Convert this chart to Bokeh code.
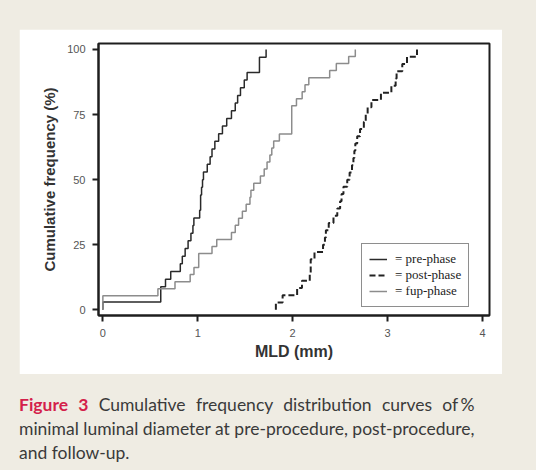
import numpy as np
from bokeh.plotting import figure
from bokeh.models import Range1d, FixedTicker, Legend, LegendItem, Div
from bokeh.layouts import column
from bokeh.embed import file_html
from bokeh.resources import INLINE

# MLD values (mm)
pre_phase = [0.00, 0.61, 0.61, 0.66, 0.715, 0.816, 0.837, 0.867, 0.898, 0.928,
             0.949, 0.959, 1.02, 1.03, 1.03, 1.04, 1.05, 1.06, 1.10, 1.13,
             1.15, 1.18, 1.22, 1.26, 1.305, 1.355, 1.395, 1.42, 1.45, 1.49,
             1.52, 1.65, 1.65, 1.72]
post_phase = [1.823, 1.894, 2.047, 2.098, 2.18, 2.19, 2.19, 2.23, 2.32, 2.34,
              2.35, 2.38, 2.43, 2.47, 2.50, 2.515, 2.535, 2.575, 2.60, 2.625,
              2.64, 2.65, 2.66, 2.68, 2.71, 2.75, 2.77, 2.79, 2.83, 2.93,
              3.04, 3.085, 3.095, 3.155, 3.205, 3.31]
fup_phase = [0.00, 0.00, 0.58, 0.76, 0.92, 0.96, 1.01, 1.01, 1.15, 1.20,
             1.355, 1.395, 1.43, 1.47, 1.51, 1.55, 1.56, 1.59, 1.66, 1.70,
             1.73, 1.76, 1.78, 1.80, 1.86, 1.99, 1.99, 1.99, 1.99, 2.04,
             2.10, 2.13, 2.17, 2.39, 2.46, 2.59, 2.66]
x_ticks = [0, 1, 2, 3, 4]
y_ticks = [0, 25, 50, 75, 100]
legend_labels = ["= pre-phase", "= post-phase", "= fup-phase"]
x_label = "MLD (mm)"
y_label = "Cumulative frequency (%)"


def ecdf_steps(values):
    v = np.sort(np.asarray(values, dtype=float))
    u, c = np.unique(v, return_counts=True)
    f = np.cumsum(c) / len(v) * 100.0
    xs = np.concatenate([[u[0]], u])
    ys = np.concatenate([[0.0], f])
    return xs, ys


BEIGE = "#efece3"

p = figure(width=483, height=345, output_backend="svg", toolbar_location=None,
           x_range=Range1d(-0.046, 4.074), y_range=Range1d(-2.2, 102.3),
           min_border_left=79, min_border_right=13, min_border_top=14,
           min_border_bottom=59)
p.margin = (29, 0, 0, 19)
p.background_fill_color = "white"
p.border_fill_color = "white"
p.outline_line_color = "#1e1e1e"
p.outline_line_width = 2
p.grid.visible = False

xs, ys = ecdf_steps(pre_phase)
r_pre = p.step(xs, ys, mode="after", line_color="#2a2a2a", line_width=1.5)
xs, ys = ecdf_steps(post_phase)
r_post = p.step(xs, ys, mode="after", line_color="#222222", line_width=2,
                line_dash="6 3")
xs, ys = ecdf_steps(fup_phase)
r_fup = p.step(xs, ys, mode="after", line_color="#8c8c8c", line_width=1.5)

for ax, ticks in ((p.xaxis, x_ticks), (p.yaxis, y_ticks)):
    ax.ticker = FixedTicker(ticks=ticks)
    ax.minor_tick_line_color = None
    ax.major_tick_in = 0
    ax.major_tick_out = 6
    ax.major_tick_line_width = 2
    ax.major_tick_line_color = "#1e1e1e"
    ax.axis_line_width = 2
    ax.axis_line_color = "#1e1e1e"
    ax.major_label_text_font = "Liberation Sans"
    ax.major_label_text_font_size = "11px"
    ax.major_label_text_color = "#555555"
    ax.axis_label_text_font = "Liberation Sans"
    ax.axis_label_text_font_style = "bold"
    ax.axis_label_text_font_size = "15px"
    ax.axis_label_text_color = "#333333"

p.xaxis.axis_label = x_label
p.yaxis.axis_label = y_label
p.xaxis.axis_label_text_font_size = "16px"
p.xaxis.major_label_standoff = 7
p.yaxis.major_label_standoff = 7
p.xaxis.axis_label_standoff = 3
p.yaxis.axis_label_standoff = 6

legend = Legend(items=[LegendItem(label=legend_labels[0], renderers=[r_pre]),
                       LegendItem(label=legend_labels[1], renderers=[r_post]),
                       LegendItem(label=legend_labels[2], renderers=[r_fup])],
                location=(263, 8))
legend.border_line_color = "#1e1e1e"
legend.border_line_width = 1.5
legend.background_fill_color = "white"
legend.background_fill_alpha = 1
legend.label_text_font = "Liberation Serif"
legend.label_text_font_size = "13px"
legend.label_text_line_height = 1.0
legend.label_text_color = "#222222"
legend.glyph_width = 18
legend.glyph_height = 14
legend.label_height = 14
legend.label_standoff = 8
legend.padding = 7
legend.spacing = 0
legend.margin = 0
p.add_layout(legend)

caption = Div(
    text=(
        '<div style="text-align:justify;text-align-last:justify;">'
        '<span style="color:#d41f4b;font-weight:bold;">Figure 3</span> '
        'Cumulative frequency distribution curves of\u2009%</div>'
        '<div style="text-align:justify;text-align-last:justify;">'
        'minimal luminal diameter at pre-procedure, post-procedure,</div>'
        '<div>and follow-up.</div>'
    ),
    width=483,
    styles={"font-family": "Lato", "font-size": "17.5px", "color": "#3a3a3a",
            "line-height": "24px"},
)
caption.margin = (19, 0, 0, 19)

layout = column(p, caption, width=536, height=470,
                styles={"background-color": BEIGE})

open("out.html", "w").write(file_html(layout, INLINE))
